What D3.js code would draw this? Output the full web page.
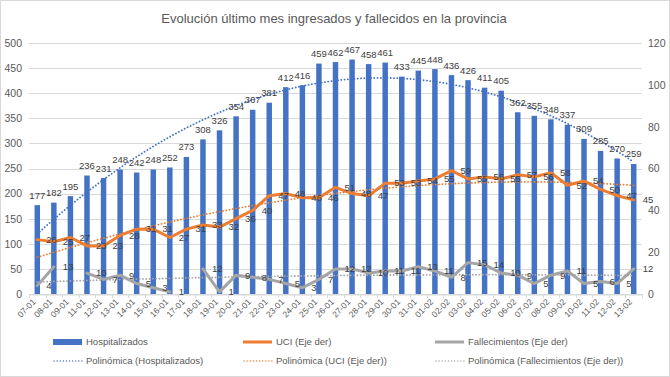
<!DOCTYPE html>
<html><head><meta charset="utf-8">
<script src="https://cdn.jsdelivr.net/npm/d3@7/dist/d3.min.js"></script>
<style>
html,body{margin:0;padding:0;background:#fff;}
svg{display:block;font-family:"Liberation Sans",Arial,sans-serif;}
</style></head>
<body>
<svg id="chart" width="670" height="377"></svg>
<script>
const categories = ["07-01","08-01","09-01","11-01","12-01","13-01","14-01","15-01","16-01","17-01","18-01","19-01","20-01","21-01","22-01","23-01","24-01","25-01","26-01","27-01","28-01","29-01","30-01","31-01","01-02","02-02","03-02","04-02","05-02","06-02","07-02","08-02","09-02","10-02","11-02","12-02","13-02"];
const hospitalizados = [177,182,195,236,231,248,242,248,252,273,308,326,354,367,381,412,416,459,462,467,458,461,433,445,448,436,426,411,405,362,355,348,337,309,285,270,259];
const uci = [26,25,27,23,23,28,31,31,27,31,33,32,36,40,47,48,46,46,51,48,47,53,53,54,55,59,55,56,55,57,56,58,52,54,50,47,45];
const fallecimientos = [4,13,null,10,7,9,5,3,1,null,12,1,9,8,7,5,3,7,12,12,10,11,11,13,11,8,15,14,10,9,5,9,11,5,6,5,12];
const leftTicks = [0,50,100,150,200,250,300,350,400,450,500];
const rightTicks = [0,20,40,60,80,100,120];
const title = "Evolución último mes ingresados y fallecidos en la provincia";
const trendOrder = 2;

const svg = d3.select("#chart");
const W = 670, H = 377;
const plot = {l:29, r:642, t:43, b:294};
const textCol = "#595959", labelCol = "#404040", gridCol = "#D9D9D9";
const blue = "#4472C4", orange = "#ED7D31", gray = "#A5A5A5";

svg.append("rect").attr("x",0.5).attr("y",0.5).attr("width",W-1).attr("height",H-1)
  .attr("fill","#fff").attr("stroke",gridCol);

const x = d3.scaleBand().domain(categories).range([plot.l, plot.r]).padding(0);
const yL = d3.scaleLinear().domain([0,500]).range([plot.b, plot.t]);
const yR = d3.scaleLinear().domain([0,120]).range([plot.b, plot.t]);
const cx = c => x(c) + x.bandwidth()/2;

// title
svg.append("text").attr("x", 334).attr("y", 23).attr("text-anchor","middle")
  .attr("font-size", 13).attr("fill", textCol).text(title);

// gridlines
svg.append("g").selectAll("line").data(leftTicks).join("line")
  .attr("x1", plot.l).attr("x2", plot.r)
  .attr("y1", d => Math.round(yL(d))+0.5).attr("y2", d => Math.round(yL(d))+0.5)
  .attr("stroke", gridCol).attr("stroke-width",1);

// left axis
const axL = svg.append("g").attr("transform",`translate(${plot.l-6},0)`)
  .call(d3.axisLeft(yL).tickValues(leftTicks).tickSize(0).tickPadding(1));
axL.select(".domain").remove();
axL.selectAll("text").attr("font-size",10.5).attr("fill",textCol).attr("font-family","Liberation Sans, Arial, sans-serif");

// right axis
const axR = svg.append("g").attr("transform",`translate(${plot.r+5},0)`)
  .call(d3.axisRight(yR).tickValues(rightTicks).tickSize(0).tickPadding(1));
axR.select(".domain").remove();
axR.selectAll("text").attr("font-size",10.5).attr("fill",textCol).attr("font-family","Liberation Sans, Arial, sans-serif");

// x axis
const axB = svg.append("g").attr("transform",`translate(0,${Math.round(plot.b)+0.5})`)
  .call(d3.axisBottom(x).tickSize(0).tickPadding(0));
axB.select(".domain").attr("stroke",gridCol);
axB.selectAll(".tick text").attr("font-size",8.5).attr("fill",textCol)
  .attr("font-family","Liberation Sans, Arial, sans-serif")
  .attr("text-anchor","end").attr("dy",0)
  .attr("transform","translate(-1,8) rotate(-45)");
// boundary ticks
const bounds = categories.map(c => x(c)).concat([plot.r]);
svg.append("g").selectAll("line").data(bounds).join("line")
  .attr("x1", d => Math.round(d)+0.5).attr("x2", d => Math.round(d)+0.5)
  .attr("y1", plot.b).attr("y2", plot.b+4).attr("stroke", gridCol);

// bars
const bw = x.bandwidth()*0.33;
svg.append("g").selectAll("rect").data(hospitalizados).join("rect")
  .attr("x",(d,i)=>cx(categories[i]) - bw/2).attr("width", bw)
  .attr("y", d => yL(d)).attr("height", d => yL(0)-yL(d)).attr("fill", blue);

// polynomial fit
function polyfit(xs, ys, order){
  const n = order+1;
  const A = Array.from({length:n},()=>new Array(n+1).fill(0));
  for(let k=0;k<xs.length;k++){
    for(let i=0;i<n;i++){
      for(let j=0;j<n;j++) A[i][j] += Math.pow(xs[k], i+j);
      A[i][n] += ys[k]*Math.pow(xs[k], i);
    }
  }
  for(let i=0;i<n;i++){
    let p=i; for(let r=i+1;r<n;r++) if(Math.abs(A[r][i])>Math.abs(A[p][i])) p=r;
    [A[i],A[p]]=[A[p],A[i]];
    for(let r=0;r<n;r++){ if(r===i) continue; const f=A[r][i]/A[i][i]; for(let c=i;c<=n;c++) A[r][c]-=f*A[i][c]; }
  }
  return A.map((row,i)=>row[n]/row[i]);
}
function trend(values, order){
  const xs=[], ys=[];
  values.forEach((v,i)=>{ if(v!=null){ xs.push(i+1); ys.push(v);} });
  const c = polyfit(xs, ys, order);
  const f = t => c.reduce((s,ci,i)=>s+ci*Math.pow(t,i),0);
  const pts=[];
  for(let t=1;t<=values.length+1e-9;t+=0.1) pts.push([t, f(t)]);
  return pts;
}
const xIdx = d3.scaleLinear().domain([1, categories.length]).range([cx(categories[0]), cx(categories[categories.length-1])]);

function drawTrend(values, yScale, color){
  svg.append("path").datum(trend(values, trendOrder))
    .attr("d", d3.line().x(d=>xIdx(d[0])).y(d=>yScale(d[1])).curve(d3.curveLinear))
    .attr("fill","none").attr("stroke",color).attr("stroke-width",1.8)
    .attr("stroke-dasharray","0.1 3.2").attr("stroke-linecap","round");
}
drawTrend(hospitalizados, yL, blue);

// lines
function drawLine(values, color){
  svg.append("path").datum(values)
    .attr("d", d3.line().defined(d=>d!=null).x((d,i)=>cx(categories[i])).y(d=>yR(d)))
    .attr("fill","none").attr("stroke",color).attr("stroke-width",3)
    .attr("stroke-linejoin","round").attr("stroke-linecap","round");
}
drawLine(uci, orange);
drawLine(fallecimientos, gray);
drawTrend(uci, yR, orange);
drawTrend(fallecimientos, yR, gray);

// labels
svg.append("g").selectAll("text").data(hospitalizados).join("text")
  .attr("x",(d,i)=>cx(categories[i])).attr("y", d=>yL(d)-6.5)
  .attr("text-anchor","middle").attr("font-size",9.5).attr("fill",labelCol).text(d=>d);
function lineLabels(values){
  svg.append("g").selectAll("text").data(values.map((v,i)=>({v,i})).filter(d=>d.v!=null)).join("text")
    .attr("x", d=>cx(categories[d.i])+9).attr("y", d=>yR(d.v)).attr("dy","0.35em")
    .attr("text-anchor","start").attr("font-size",9.5).attr("fill",labelCol).text(d=>d.v);
}
lineLabels(uci);
lineLabels(fallecimientos);

// legend
const legend = [
  {name:"Hospitalizados", type:"bar", color:blue, x:53, y:342},
  {name:"UCI (Eje der)", type:"line", color:orange, x:243, y:342},
  {name:"Fallecimientos (Eje der)", type:"line", color:gray, x:435, y:342},
  {name:"Polinómica (Hospitalizados)", type:"dot", color:blue, x:53, y:361},
  {name:"Polinómica (UCI (Eje der))", type:"dot", color:orange, x:243, y:361},
  {name:"Polinómica (Fallecimientos (Eje der))", type:"dot", color:gray, x:435, y:361}
];
const lg = svg.append("g");
legend.forEach(d=>{
  if(d.type==="bar") lg.append("rect").attr("x",d.x).attr("y",d.y-3).attr("width",29).attr("height",6).attr("fill",d.color);
  else if(d.type==="line") lg.append("line").attr("x1",d.x).attr("x2",d.x+29).attr("y1",d.y).attr("y2",d.y).attr("stroke",d.color).attr("stroke-width",3);
  else lg.append("line").attr("x1",d.x+1).attr("x2",d.x+29).attr("y1",d.y).attr("y2",d.y).attr("stroke",d.color).attr("stroke-width",1.3).attr("stroke-dasharray","0.1 3").attr("stroke-linecap","round");
  lg.append("text").attr("x",d.x+33).attr("y",d.y).attr("dy","0.35em").attr("font-size",9.5).attr("fill",textCol).text(d.name);
});
</script>
</body></html>
